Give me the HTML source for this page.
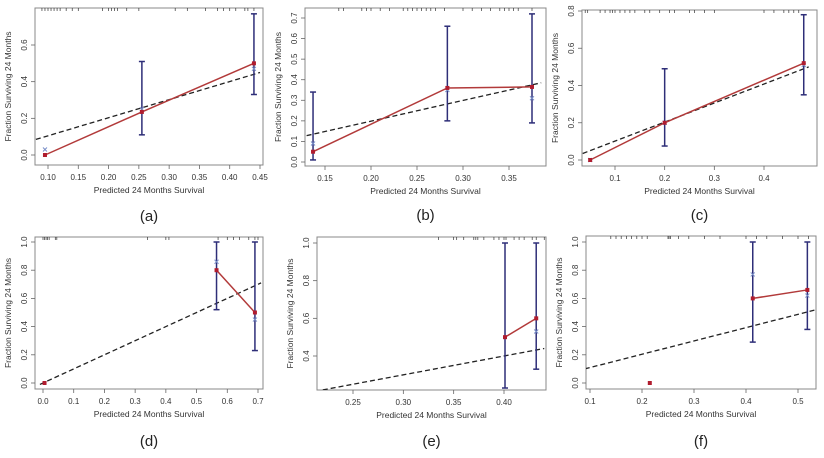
<!DOCTYPE html>
<html><head><meta charset="utf-8">
<style>
html,body{margin:0;padding:0;background:#fff;}
svg{display:block;font-family:"Liberation Sans",sans-serif;}
</style></head>
<body>
<svg id="fig" width="824" height="458" viewBox="0 0 824 458" xmlns="http://www.w3.org/2000/svg"></svg>
<script>
// ---- Panel (a) ----
const aPred=[0.095,0.255,0.44], aObs=[0,0.235,0.5], aLo=[null,0.11,0.33], aHi=[null,0.51,0.77];
const aBx=[0.095,0.255,0.44], aBy=[0.03,0.25,0.47];
const aXTicks=[0.10,0.15,0.20,0.25,0.30,0.35,0.40,0.45], aYTicks=[0.0,0.2,0.4,0.6];
const aXLabels=["0.10","0.15","0.20","0.25","0.30","0.35","0.40","0.45"], aYLabels=["0.0","0.2","0.4","0.6"];
const aDash=[[0.08,0.085],[0.45,0.45]];
const aRug=[0.09,0.095,0.1,0.105,0.11,0.115,0.12,0.13,0.14,0.15,0.19,0.2,0.205,0.21,0.215,0.23,0.25,0.31,0.33,0.36,0.38,0.39,0.4,0.41,0.425,0.43,0.44];
// ---- Panel (b) ----
const bPred=[0.137,0.283,0.375], bObs=[0.05,0.36,0.365], bLo=[0.01,0.2,0.19], bHi=[0.34,0.66,0.72];
const bBx=[0.137,0.283,0.375], bBy=[0.09,0.35,0.31];
const bXTicks=[0.15,0.20,0.25,0.30,0.35], bYTicks=[0,0.1,0.2,0.3,0.4,0.5,0.6,0.7];
const bXLabels=["0.15","0.20","0.25","0.30","0.35"], bYLabels=["0.0","0.1","0.2","0.3","0.4","0.5","0.6","0.7"];
const bDash=[[0.13,0.128],[0.385,0.385]];
const bRug=[0.165,0.17,0.19,0.195,0.2,0.21,0.22,0.235,0.24,0.245,0.25,0.255,0.26,0.265,0.27,0.28,0.3,0.31,0.32,0.33,0.34,0.345,0.35,0.355,0.36,0.375];
// ---- Panel (c) ----
const cPred=[0.05,0.2,0.48], cObs=[0,0.2,0.52], cLo=[null,0.075,0.35], cHi=[null,0.49,0.78];
const cBx=[0.05,0.2,0.48], cBy=[0.0,0.2,0.51];
const cXTicks=[0.1,0.2,0.3,0.4], cYTicks=[0,0.2,0.4,0.6,0.8];
const cXLabels=["0.1","0.2","0.3","0.4"], cYLabels=["0.0","0.2","0.4","0.6","0.8"];
const cDash=[[0.035,0.035],[0.49,0.5]];
const cRug=[0.04,0.045,0.07,0.08,0.09,0.095,0.1,0.11,0.12,0.13,0.14,0.16,0.17,0.19,0.21,0.22,0.25,0.26,0.28,0.3,0.4,0.42,0.44,0.45,0.46,0.47];
// ---- Panel (d) ----
const dPred=[0.005,0.565,0.69], dObs=[0,0.8,0.5], dLo=[null,0.52,0.23], dHi=[null,1.0,1.0];
const dBx=[0.565,0.69], dBy=[0.86,0.45];
const dXTicks=[0,0.1,0.2,0.3,0.4,0.5,0.6,0.7], dYTicks=[0,0.2,0.4,0.6,0.8,1.0];
const dXLabels=["0.0","0.1","0.2","0.3","0.4","0.5","0.6","0.7"], dYLabels=["0.0","0.2","0.4","0.6","0.8","1.0"];
const dDash=[[-0.01,-0.01],[0.71,0.71]];
const dRug=[0.0,0.005,0.01,0.015,0.02,0.04,0.045,0.34,0.4,0.41,0.57,0.6,0.62,0.64,0.67,0.69,0.7];
// ---- Panel (e) ----
const ePred=[0.401,0.432], eObs=[0.5,0.6], eLo=[0.23,0.33], eHi=[1.0,1.0];
const eBx=[0.432], eBy=[0.53];
const eXTicks=[0.25,0.30,0.35,0.40], eYTicks=[0.4,0.6,0.8,1.0];
const eXLabels=["0.25","0.30","0.35","0.40"], eYLabels=["0.4","0.6","0.8","1.0"];
const eDash=[[0.22,0.22],[0.44,0.44]];
const eRug=[0.335,0.35,0.353,0.36,0.37,0.372,0.374,0.38,0.39,0.395,0.4,0.402,0.41,0.415,0.42,0.428,0.432,0.44];
// ---- Panel (f) ----
const fPred=[0.215,0.413,0.518], fObs=[0,0.6,0.66], fLo=[null,0.29,0.38], fHi=[null,1.0,1.0];
const fBx=[0.413,0.518], fBy=[0.77,0.62];
const fXTicks=[0.1,0.2,0.3,0.4,0.5], fYTicks=[0,0.2,0.4,0.6,0.8,1.0];
const fXLabels=["0.1","0.2","0.3","0.4","0.5"], fYLabels=["0.0","0.2","0.4","0.6","0.8","1.0"];
const fDash=[[0.09,0.1],[0.535,0.52]];
const fRug=[0.14,0.15,0.16,0.17,0.18,0.19,0.2,0.21,0.25,0.252,0.255,0.27,0.29,0.32,0.35,0.4,0.42,0.44,0.47,0.5,0.52];

const NS="http://www.w3.org/2000/svg";
const svg=document.getElementById('fig');
function mk(tag,attrs,parent){const e=document.createElementNS(NS,tag);for(const k in attrs)e.setAttribute(k,attrs[k]);(parent||svg).appendChild(e);return e;}

function panel(cfg){
  const g=mk('g',{});
  
  
  const b=cfg.box;
  const sx=v=>cfg.px[0]+(v-cfg.dx[0])*(cfg.px[1]-cfg.px[0])/(cfg.dx[1]-cfg.dx[0]);
  const sy=v=>cfg.py[0]+(v-cfg.dy[0])*(cfg.py[1]-cfg.py[0])/(cfg.dy[1]-cfg.dy[0]);
  const frame=mk('rect',{x:b[0],y:b[1],width:b[2]-b[0],height:b[3]-b[1],fill:'none',stroke:'#888','stroke-width':1},g);
  
  
  const clip=mk('clipPath',{id:'clip'+cfg.id},g);
  mk('rect',{x:b[0],y:b[1],width:b[2]-b[0],height:b[3]-b[1]},clip);
  // x ticks
  cfg.xt.forEach((v,i)=>{
    const x=sx(v);
    const t=mk('line',{x1:x,x2:x,y1:b[3],y2:b[3]+4,stroke:'#666','stroke-width':0.8},g);
    
    
    const l=mk('text',{x:x,y:b[3]+15,'font-size':8,fill:'#333','text-anchor':'middle'},g);
    l.textContent=cfg.xl[i];
    
    
  });
  cfg.yt.forEach((v,i)=>{
    const y=sy(v);
    const t=mk('line',{x1:b[0]-4,x2:b[0],y1:y,y2:y,stroke:'#666','stroke-width':0.8},g);
    
    
    const lx=b[0]-8;
    const l=mk('text',{x:lx,y:y,'font-size':8,fill:'#333','text-anchor':'middle',transform:`rotate(-90 ${lx} ${y})`},g);
    l.textContent=cfg.yl[i];
    
    
  });
  // axis titles
  const xtitle=mk('text',{x:(b[0]+b[2])/2,y:b[3]+28,'font-size':8.5,fill:'#333','text-anchor':'middle'},g);
  xtitle.textContent='Predicted 24 Months Survival';
  
  
  const ytx=b[0]-24, yty=(b[1]+b[3])/2;
  const ytitle=mk('text',{x:ytx,y:yty,'font-size':8.5,fill:'#333','text-anchor':'middle',transform:`rotate(-90 ${ytx} ${yty})`},g);
  ytitle.textContent='Fraction Surviving 24 Months';
  
  
  const cap=mk('text',{x:(b[0]+b[2])/2,y:cfg.capY,'font-size':15,fill:'#222','text-anchor':'middle'},g);
  cap.textContent='('+cfg.id+')';
  
  
  const inner=mk('g',{'clip-path':`url(#clip${cfg.id})`},g);
  // rug
  cfg.rug.forEach(v=>{
    const x=sx(v);
    const r=mk('line',{x1:x,x2:x,y1:b[1],y2:b[1]+3,stroke:'#333','stroke-width':0.7},inner);
    
    
  });
  // dashed reference
  const d=mk('line',{x1:sx(cfg.dash[0][0]),y1:sy(cfg.dash[0][1]),x2:sx(cfg.dash[1][0]),y2:sy(cfg.dash[1][1]),stroke:'#222','stroke-width':1.3,'stroke-dasharray':'5,3'},inner);
  
  
  // error bars
  cfg.pred.forEach((p,i)=>{
    if(cfg.lo[i]==null)return;
    const x=sx(p),y1=sy(cfg.lo[i]),y2=sy(cfg.hi[i]);
    const e=mk('g',{stroke:'#2e2e78','stroke-width':1.5},inner);
    
    
    mk('line',{x1:x,x2:x,y1:y1,y2:y2},e);
    mk('line',{x1:x-3,x2:x+3,y1:y1,y2:y1},e);
    mk('line',{x1:x-3,x2:x+3,y1:y2,y2:y2},e);
  });
  // red observed line (connects points with error bars, plus first if configured)
  const idx=cfg.connect;
  const pl=mk('polyline',{points:idx.map(i=>sx(cfg.pred[i])+','+sy(cfg.obs[i])).join(' '),fill:'none',stroke:'#b23a3a','stroke-width':1.5},inner);
  
  
  // blue x markers
  cfg.bx.forEach((v,i)=>{
    const x=sx(v),y=sy(cfg.by[i]);
    const m=mk('path',{d:`M${x-2},${y-2}L${x+2},${y+2}M${x-2},${y+2}L${x+2},${y-2}`,stroke:'#7a8fc8','stroke-width':1},inner);
    
    
  });
  cfg.pred.forEach((p,i)=>{
    const pt=mk('rect',{x:sx(p)-2,y:sy(cfg.obs[i])-2,width:4,height:4,fill:'#b01c2e'},inner);
    
    
  });
}

panel({id:'a',box:[35,8,263,165],px:[48,260],dx:[0.10,0.45],py:[155,45],dy:[0,0.6],xt:aXTicks,xl:aXLabels,yt:aYTicks,yl:aYLabels,pred:aPred,obs:aObs,lo:aLo,hi:aHi,bx:aBx,by:aBy,dash:aDash,rug:aRug,connect:[0,1,2],capY:221});
panel({id:'b',box:[305,8,546,166],px:[325,509],dx:[0.15,0.35],py:[162,18],dy:[0,0.7],xt:bXTicks,xl:bXLabels,yt:bYTicks,yl:bYLabels,pred:bPred,obs:bObs,lo:bLo,hi:bHi,bx:bBx,by:bBy,dash:bDash,rug:bRug,connect:[0,1,2],capY:220});
panel({id:'c',box:[582,10,817,166],px:[615,764],dx:[0.1,0.4],py:[160,11],dy:[0,0.8],xt:cXTicks,xl:cXLabels,yt:cYTicks,yl:cYLabels,pred:cPred,obs:cObs,lo:cLo,hi:cHi,bx:cBx,by:cBy,dash:cDash,rug:cRug,connect:[0,1,2],capY:220});
panel({id:'d',box:[35,237,263,389],px:[43,258],dx:[0,0.7],py:[383,242],dy:[0,1],xt:dXTicks,xl:dXLabels,yt:dYTicks,yl:dYLabels,pred:dPred,obs:dObs,lo:dLo,hi:dHi,bx:dBx,by:dBy,dash:dDash,rug:dRug,connect:[1,2],capY:446});
panel({id:'e',box:[317,237,546,390],px:[353,504],dx:[0.25,0.40],py:[243,356],dy:[1.0,0.4],xt:eXTicks,xl:eXLabels,yt:eYTicks,yl:eYLabels,pred:ePred,obs:eObs,lo:eLo,hi:eHi,bx:eBx,by:eBy,dash:eDash,rug:eRug,connect:[0,1],capY:446});
panel({id:'f',box:[586,236,816,389],px:[590,798],dx:[0.1,0.5],py:[383,242],dy:[0,1],xt:fXTicks,xl:fXLabels,yt:fYTicks,yl:fYLabels,pred:fPred,obs:fObs,lo:fLo,hi:fHi,bx:fBx,by:fBy,dash:fDash,rug:fRug,connect:[1,2],capY:446});
</script>
</body></html>
